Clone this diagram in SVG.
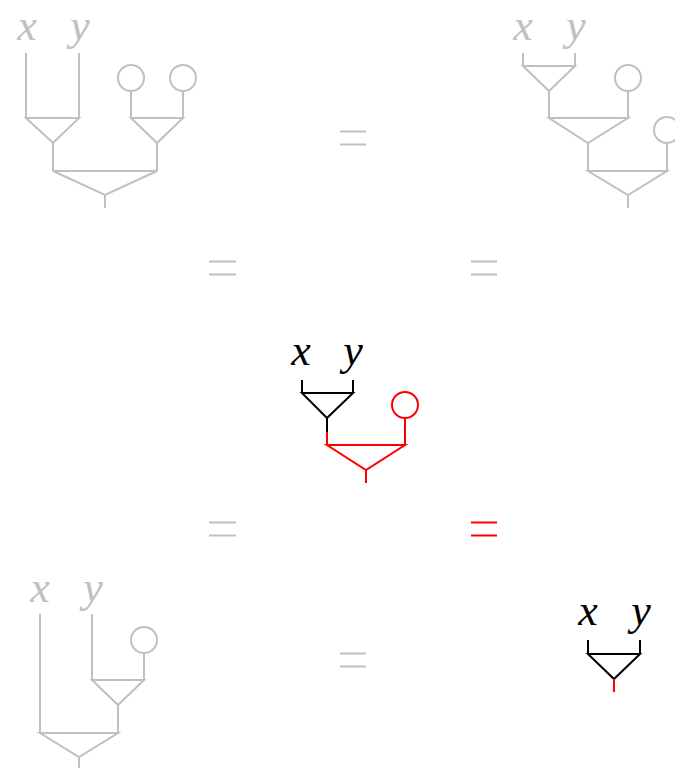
<svg xmlns="http://www.w3.org/2000/svg" width="675" height="768" viewBox="0 0 675 768">
<style>
.g{stroke:#c0c0c0;}
.r{stroke:#ff0000;}
.k{stroke:#000000;}
line,polyline,circle,polygon{fill:none;stroke-width:2;}
text{font-family:"Liberation Serif","Times New Roman",serif;font-style:italic;font-size:44px;text-anchor:middle;}
.tg{fill:#c0c0c0;}
.tk{fill:#000000;}
</style>
<rect width="675" height="768" fill="#ffffff"/>
<g id="labels">
<text class="tg" x="27" y="39.5">x</text>
<text class="tg" x="80" y="39.5">y</text>
<text class="tg" x="523" y="39.5">x</text>
<text class="tg" x="576" y="39.5">y</text>
<text class="tk" x="301" y="365">x</text>
<text class="tk" x="353" y="365">y</text>
<text class="tg" x="40" y="602">x</text>
<text class="tg" x="93" y="602">y</text>
<text class="tk" x="588" y="625">x</text>
<text class="tk" x="641" y="625">y</text>
</g>
<g id="units">
<circle class="g" cx="131" cy="78" r="13"/>
<circle class="g" cx="183" cy="78" r="13"/>
<circle class="g" cx="628" cy="78" r="13"/>
<circle class="g" cx="667" cy="130" r="13"/>
<circle class="r" cx="405" cy="405" r="13"/>
<circle class="g" cx="144" cy="640" r="13"/>
</g>
<g id="multiplications">
<polygon class="g" points="26,118 79,118 53,143"/>
<polygon class="g" points="131,118 183,118 157,143"/>
<polygon class="g" points="53,171 157,171 105,195"/>
<polygon class="g" points="523,66 575,66 549,91"/>
<polygon class="g" points="549,118 628,118 588,143"/>
<polygon class="g" points="588,171 667,171 628,195"/>
<polygon class="k" points="302,393 353,393 327,418"/>
<polygon class="r" points="327,445 405,445 366,470"/>
<polygon class="g" points="92,680 144,680 118,705"/>
<polygon class="g" points="40,733 118,733 79,757"/>
<polygon class="k" points="588,654 640,654 614,679"/>
</g>
<g id="connectors">
<line class="g" x1="26" y1="53" x2="26" y2="118"/>
<line class="g" x1="79" y1="53" x2="79" y2="118"/>
<line class="g" x1="131" y1="91" x2="131" y2="118"/>
<line class="g" x1="183" y1="91" x2="183" y2="118"/>
<line class="g" x1="53" y1="143" x2="53" y2="171"/>
<line class="g" x1="157" y1="143" x2="157" y2="171"/>
<line class="g" x1="105" y1="195" x2="105" y2="208"/>
<line class="g" x1="523" y1="53" x2="523" y2="66"/>
<line class="g" x1="575" y1="53" x2="575" y2="66"/>
<line class="g" x1="549" y1="91" x2="549" y2="118"/>
<line class="g" x1="628" y1="91" x2="628" y2="118"/>
<line class="g" x1="588" y1="143" x2="588" y2="171"/>
<line class="g" x1="667" y1="143" x2="667" y2="171"/>
<line class="g" x1="628" y1="195" x2="628" y2="208"/>
<line class="k" x1="302" y1="380" x2="302" y2="393"/>
<line class="k" x1="353" y1="380" x2="353" y2="393"/>
<line class="k" x1="327" y1="418" x2="327" y2="432"/>
<line class="r" x1="327" y1="432" x2="327" y2="445"/>
<line class="r" x1="405" y1="418" x2="405" y2="445"/>
<line class="r" x1="366" y1="470" x2="366" y2="483"/>
<line class="g" x1="40" y1="614" x2="40" y2="733"/>
<line class="g" x1="92" y1="614" x2="92" y2="680"/>
<line class="g" x1="144" y1="653" x2="144" y2="680"/>
<line class="g" x1="118" y1="705" x2="118" y2="733"/>
<line class="g" x1="79" y1="757" x2="79" y2="770"/>
<line class="k" x1="588" y1="640" x2="588" y2="654"/>
<line class="k" x1="640" y1="640" x2="640" y2="654"/>
<line class="r" x1="614" y1="679" x2="614" y2="692"/>
</g>
<g id="equals">
<line class="g" x1="340" y1="131.5" x2="366" y2="131.5"/>
<line class="g" x1="340" y1="144.5" x2="366" y2="144.5"/>
<line class="g" x1="209" y1="261.5" x2="236" y2="261.5"/>
<line class="g" x1="209" y1="274.5" x2="236" y2="274.5"/>
<line class="g" x1="471" y1="261.5" x2="497" y2="261.5"/>
<line class="g" x1="471" y1="274.5" x2="497" y2="274.5"/>
<line class="g" x1="209" y1="522.5" x2="236" y2="522.5"/>
<line class="g" x1="209" y1="535.5" x2="236" y2="535.5"/>
<line class="r" x1="471" y1="522.5" x2="497" y2="522.5"/>
<line class="r" x1="471" y1="535.5" x2="497" y2="535.5"/>
<line class="g" x1="340" y1="653.5" x2="366" y2="653.5"/>
<line class="g" x1="340" y1="666.5" x2="366" y2="666.5"/>
</g>
</svg>
